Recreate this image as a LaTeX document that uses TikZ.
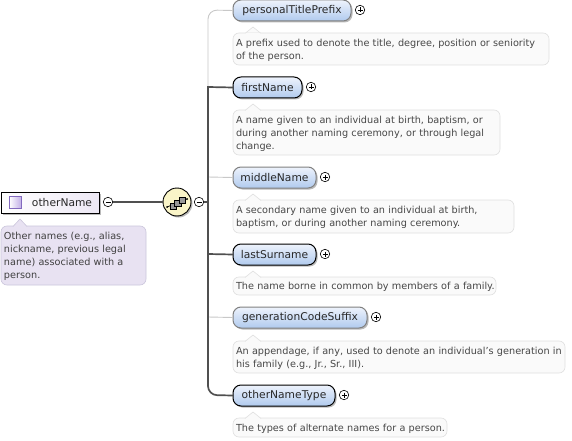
\documentclass[tikz,border=0pt]{standalone}
\usepackage{fontspec}
\setmainfont{DejaVu Sans}
\usetikzlibrary{shadows,positioning,calc}
\definecolor{lineL}{RGB}{200,200,200}
\definecolor{lineD}{RGB}{80,80,80}
\definecolor{txt}{RGB}{40,40,40}
\definecolor{elemb}{RGB}{176,202,238}
\definecolor{elemt}{RGB}{238,243,252}
\definecolor{rootl}{RGB}{232,226,242}
\definecolor{rootb}{RGB}{203,198,220}
\definecolor{iconb}{RGB}{130,105,190}
\definecolor{iconf}{RGB}{190,170,230}
\definecolor{seqf}{RGB}{250,245,200}
\tikzset{
  x=1pt,y=-1pt,
  every node/.style={inner sep=0pt,outer sep=0pt},
  elem/.style={draw=black,line width=1pt,rounded corners=8pt,minimum height=21pt,anchor=north west,
     top color=elemt,bottom color=elemb,
     drop shadow={shadow xshift=1.5pt,shadow yshift=-1.5pt,fill=black!45,opacity=.6},
     font=\fontsize{10.7}{12}\selectfont,text=txt},
  elemO/.style={elem,draw=black!50},
  note/.style={draw=black!12,line width=.6pt,fill=black!2,rounded corners=6pt,anchor=north west,
     align=left,text=black!72,font=\fontsize{9.7}{13}\selectfont,inner xsep=3pt,
     execute at begin node={\rule{0pt}{9.5pt}}},
  notch/.style={draw=black!12,line width=.6pt,fill=black!2},
  pm/.style={circle,draw=black,line width=.6pt,fill=white,minimum size=9.5pt},
  optc/.style={draw=lineL,line width=.9pt,rounded corners=9pt},
  reqc/.style={draw=lineD,line width=1.7pt},
}
\newcommand{\plusm}[1]{\draw[line width=.7pt] ($(#1)+(-2.5,0)$)--($(#1)+(2.5,0)$) ($(#1)+(0,-2.5)$)--($(#1)+(0,2.5)$);}
\newcommand{\minusm}[1]{\draw[line width=.7pt] ($(#1)+(-2.5,0)$)--($(#1)+(2.5,0)$);}
\begin{document}
\begin{tikzpicture}
\useasboundingbox (0,0) rectangle (572,441);
\fill[white] (0,0) rectangle (572,441);
\coordinate (sp) at (208,202);
\coordinate (top) at (208,10);
\coordinate (bot) at (208,395);

% optional connectors
\coordinate (j1) at (208,87);
\coordinate (j3) at (208,177);
\coordinate (j4) at (208,254);
\coordinate (j5) at (208,317);

% notes with notch
\path[notch] (245,33.5) -- (253,27) -- (261,33.5);
\node[note,text width=310pt,minimum height=32pt] (n1) at (233,33) {A prefix used to denote the title, degree, position or seniority\\of the person.};
\node[note,text width=261pt,minimum height=45pt] (n2) at (233,110) {A name given to an individual at birth, baptism, or\\during another naming ceremony, or through legal\\change.};
\node[note,text width=275pt,minimum height=33pt] (n3) at (233,200) {A secondary name given to an individual at birth,\\baptism, or during another naming ceremony.};
\node[note,text width=257pt,minimum height=18pt] (n4) at (233,277) {\mbox{The name borne in common by members of a family.}};
\node[note,text width=326pt,minimum height=32pt] (n5) at (233,341) {\mbox{An appendage, if any, used to denote an individual's generation in}\\his family (e.g., Jr., Sr., III).};
\node[note,text width=208pt,minimum height=19pt] (n6) at (233,418) {\mbox{The types of alternate names for a person.}};
\foreach \nx/\ny in {253/110,253/200,253/277,253/341,253/418}{
  \path[fill=black!2,draw=black!12,line width=.6pt] (\nx-8,\ny+.5) -- (\nx,\ny-6) -- (\nx+8,\ny+.5);
  \path[fill=black!2] (\nx-7.4,\ny+1) rectangle (\nx+7.4,\ny+.2);
}
\path[fill=black!2] (245.6,34) rectangle (260.4,33.2);

% elements
\node[elemO,minimum width=118pt] (e1) at (233,0) {personalTitlePrefix};
\node[elem,minimum width=69pt] (e2) at (233,77) {firstName};
\node[elemO,minimum width=83pt] (e3) at (233,167) {middleName};
\node[elem,minimum width=83pt] (e4) at (233,244) {lastSurname};
\node[elemO,minimum width=134pt] (e5) at (233,307) {generationCodeSuffix};
\node[elem,minimum width=102pt] (e6) at (233,385) {otherNameType};

\draw[optc] (j1) -- (top) -- (e1.west);
\draw[optc] (j3) -- (e3.west);
\draw[optc] (j5) -- (e5.west);
\draw[reqc] (e2.west) -- (j1) [rounded corners=9pt] -- (bot) -- (e6.west);
\draw[reqc] (j4) -- (e4.west);

\foreach \n/\xx/\yy in {p1/360/10,p2/311/87,p3/325/177,p4/325/254,p5/376/317,p6/344/395}{
  \node[pm] (\n) at (\xx,\yy) {};
  \plusm{\n}
}

% root
\node[note,draw=rootb,fill=rootl,text width=139pt,minimum height=59pt,text=black!75] (rn) at (1,226) {Other names (e.g., alias,\\nickname, previous legal\\name) associated with a\\person.};
\path[fill=rootl,draw=rootb,line width=.6pt] (13,226.5) -- (20,219) -- (27,226.5);
\path[fill=rootl] (13.6,227) rectangle (26.4,226);
\node[draw=black,line width=1pt,anchor=north west,minimum height=21pt,
   left color=white,right color=rootl!80,
   drop shadow={shadow xshift=1.5pt,shadow yshift=-1.5pt,fill=black!45,opacity=.6},
   font=\fontsize{10.7}{12}\selectfont,text=txt,text width=98pt,align=left] (root) at (1,192) {\hspace*{31pt}otherName};
\node[draw=iconb,line width=.8pt,left color=white,right color=iconf,minimum size=12.5pt] (ic) at (15.5,202.5) {};
\node[pm] (m1) at (108,202) {};
\minusm{m1}
\node[circle,draw=black,line width=.9pt,fill=seqf,minimum size=28pt,
  drop shadow={shadow xshift=1.5pt,shadow yshift=-1.5pt,fill=black!45,opacity=.6}] (seq) at (177,202) {};
\node[pm] (m2) at (199,202) {};
\minusm{m2}
\draw[lineD,line width=1.7pt] (m1) -- (seq);
\draw[lineD,line width=1.7pt] (m2) -- (sp);
% sequence icon
\draw[black,line width=.7pt] (167,207) -- (187,199);
\fill[black] (167,207) circle (1pt) (187,199) circle (1pt);
\foreach \a/\b in {170/203,174.5/200,179/197}{
  \draw[black,line width=.5pt,fill=black!40] (\a,\b) rectangle ++(6.5,6.5);
}
\end{tikzpicture}
\end{document}
